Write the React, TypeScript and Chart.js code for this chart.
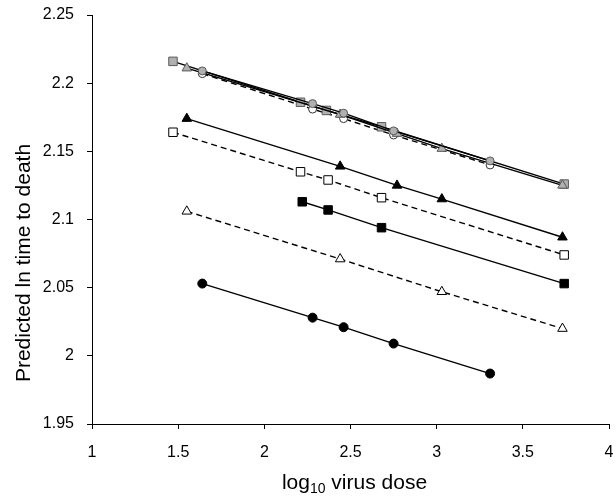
import React, { useEffect, useRef } from "react";
import { Chart, registerables } from "chart.js";

Chart.register(...registerables);

// Top cluster
const graySquareX = [1.47, 2.21, 2.36, 2.68, 3.74];
const graySquareY = [2.216, 2.186, 2.180, 2.168, 2.126];

const grayTriangleX = [1.55, 2.44, 2.77, 3.03, 3.73];
const grayTriangleY = [2.211, 2.177, 2.163, 2.152, 2.125];

const grayCircleX = [1.64, 2.28, 2.46, 2.75, 3.31];
const grayCircleY = [2.209, 2.185, 2.178, 2.165, 2.143];

const openCircleX = [1.64, 2.28, 2.46, 2.75, 3.31];
const openCircleY = [2.207, 2.181, 2.174, 2.162, 2.140];

// Middle series
const blackTriangleX = [1.55, 2.44, 2.77, 3.03, 3.73];
const blackTriangleY = [2.174, 2.139, 2.125, 2.115, 2.087];

const openSquareX = [1.47, 2.21, 2.37, 2.68, 3.74];
const openSquareY = [2.164, 2.135, 2.129, 2.116, 2.074];

const blackSquareX = [2.22, 2.37, 2.68, 3.74];
const blackSquareY = [2.113, 2.107, 2.094, 2.053];

const openTriangleX = [1.55, 2.44, 3.03, 3.73];
const openTriangleY = [2.106, 2.071, 2.047, 2.020];

const blackCircleX = [1.64, 2.28, 2.46, 2.75, 3.31];
const blackCircleY = [2.053, 2.028, 2.021, 2.009, 1.987];

const xTicks = [1, 1.5, 2, 2.5, 3, 3.5, 4];
const yTicks = [1.95, 2, 2.05, 2.1, 2.15, 2.2, 2.25];

const yTitle = "Predicted ln time to death";
const xTitleMain = "log";
const xTitleSub = "10";
const xTitleRest = " virus dose";

const FONT = '"Liberation Sans", Arial, Helvetica, sans-serif';

function pts(xs: number[], ys: number[]) {
  return xs.map((x, i) => ({ x, y: ys[i] }));
}

export default function App() {
  const ref = useRef<HTMLCanvasElement | null>(null);

  useEffect(() => {
    if (!ref.current) return;

    const titlePlugin = {
      id: "customTitles",
      afterDraw(chart: any) {
        const ctx = chart.ctx;
        ctx.save();
        ctx.fillStyle = "#000";
        const big = `21px ${FONT}`;
        const small = `14px ${FONT}`;
        ctx.font = big;
        const w1 = ctx.measureText(xTitleMain).width;
        const w3 = ctx.measureText(xTitleRest).width;
        ctx.font = small;
        const w2 = ctx.measureText(xTitleSub).width;
        const total = w1 + w2 + w3;
        const area = chart.chartArea;
        const cx = (area.left + area.right) / 2 + 4;
        let x = cx - total / 2;
        const baseY = 489;
        ctx.textAlign = "left";
        ctx.textBaseline = "alphabetic";
        ctx.font = big;
        ctx.fillText(xTitleMain, x, baseY);
        x += w1;
        ctx.font = small;
        ctx.fillText(xTitleSub, x, baseY + 4);
        x += w2;
        ctx.font = big;
        ctx.fillText(xTitleRest, x, baseY);

        // y title
        ctx.translate(30, 263);
        ctx.rotate(-Math.PI / 2);
        ctx.textAlign = "center";
        ctx.font = big;
        ctx.fillText(yTitle, 0, 0);
        ctx.restore();
      },
    };

    const solid = { borderColor: "#000", borderWidth: 1.4, showLine: true };
    const dashed = { ...solid, borderDash: [6, 4] };

    const chart = new Chart(ref.current, {
      type: "scatter",
      data: {
        datasets: [
          {
            label: "open circles",
            data: pts(openCircleX, openCircleY),
            ...dashed,
            pointStyle: "circle",
            pointRadius: 4,
            pointBackgroundColor: "#fff",
            pointBorderColor: "#333",
            pointBorderWidth: 1,
            order: 5,
          },
          {
            label: "gray squares",
            data: pts(graySquareX, graySquareY),
            ...solid,
            pointStyle: "rect",
            pointRadius: 6,
            pointBackgroundColor: "#b0b0b0",
            pointBorderColor: "#5a5a5a",
            pointBorderWidth: 1,
            order: 4,
          },
          {
            label: "gray triangles",
            data: pts(grayTriangleX, grayTriangleY),
            ...solid,
            pointStyle: "triangle",
            pointRadius: 5.5,
            pointBackgroundColor: "#b0b0b0",
            pointBorderColor: "#5a5a5a",
            pointBorderWidth: 1,
            order: 3,
          },
          {
            label: "gray circles",
            data: pts(grayCircleX, grayCircleY),
            ...solid,
            pointStyle: "circle",
            pointRadius: 4,
            pointBackgroundColor: "#b0b0b0",
            pointBorderColor: "#5a5a5a",
            pointBorderWidth: 1,
            order: 2,
          },
          {
            label: "black triangles",
            data: pts(blackTriangleX, blackTriangleY),
            ...solid,
            pointStyle: "triangle",
            pointRadius: 5.5,
            pointBackgroundColor: "#000",
            pointBorderColor: "#000",
            pointBorderWidth: 1,
          },
          {
            label: "open squares",
            data: pts(openSquareX, openSquareY),
            ...dashed,
            pointStyle: "rect",
            pointRadius: 6,
            pointBackgroundColor: "#fff",
            pointBorderColor: "#000",
            pointBorderWidth: 1,
          },
          {
            label: "black squares",
            data: pts(blackSquareX, blackSquareY),
            ...solid,
            pointStyle: "rect",
            pointRadius: 6,
            pointBackgroundColor: "#000",
            pointBorderColor: "#000",
            pointBorderWidth: 1,
          },
          {
            label: "open triangles",
            data: pts(openTriangleX, openTriangleY),
            ...dashed,
            pointStyle: "triangle",
            pointRadius: 5.5,
            pointBackgroundColor: "#fff",
            pointBorderColor: "#000",
            pointBorderWidth: 1,
          },
          {
            label: "black circles",
            data: pts(blackCircleX, blackCircleY),
            ...solid,
            pointStyle: "circle",
            pointRadius: 4.5,
            pointBackgroundColor: "#000",
            pointBorderColor: "#000",
            pointBorderWidth: 1,
          },
        ] as any,
      },
      options: {
        animation: false,
        responsive: true,
        maintainAspectRatio: false,
        layout: { padding: { left: 0, right: 6, top: 15, bottom: 0 } },
        plugins: {
          legend: { display: false },
          tooltip: { enabled: false },
          title: { display: false },
        },
        scales: {
          x: {
            type: "linear",
            min: 1,
            max: 4,
            afterBuildTicks(scale: any) {
              scale.ticks = xTicks.map((v) => ({ value: v }));
            },
            afterFit(scale: any) {
              scale.height = 74;
              scale.paddingLeft = 0;
              scale.paddingRight = 0;
            },
            grid: {
              display: true,
              drawOnChartArea: false,
              drawTicks: true,
              tickLength: 5,
              tickColor: "#000",
              color: "#000",
            },
            border: { display: true, color: "#000", width: 1 },
            ticks: {
              color: "#000",
              font: { family: FONT, size: 16 },
              padding: 14,
              maxRotation: 0,
              autoSkip: false,
              callback: (v: any) => String(Number(Number(v).toFixed(2))),
            },
          },
          y: {
            type: "linear",
            min: 1.95,
            max: 2.25,
            afterBuildTicks(scale: any) {
              scale.ticks = yTicks.map((v) => ({ value: v }));
            },
            afterFit(scale: any) {
              scale.width = 92;
              scale.paddingTop = 0;
              scale.paddingBottom = 0;
            },
            grid: {
              display: true,
              drawOnChartArea: false,
              drawTicks: true,
              tickLength: 5,
              tickColor: "#000",
              color: "#000",
            },
            border: { display: true, color: "#000", width: 1 },
            ticks: {
              color: "#000",
              font: { family: FONT, size: 16 },
              padding: 13,
              autoSkip: false,
              callback: (v: any) => String(Number(Number(v).toFixed(2))),
            },
          },
        },
      } as any,
      plugins: [titlePlugin],
    });

    return () => chart.destroy();
  }, []);

  return (
    <div
      style={{
        position: "fixed",
        left: 0,
        top: 0,
        width: 616,
        height: 498,
        background: "#fff",
      }}
    >
      <canvas ref={ref} />
    </div>
  );
}
